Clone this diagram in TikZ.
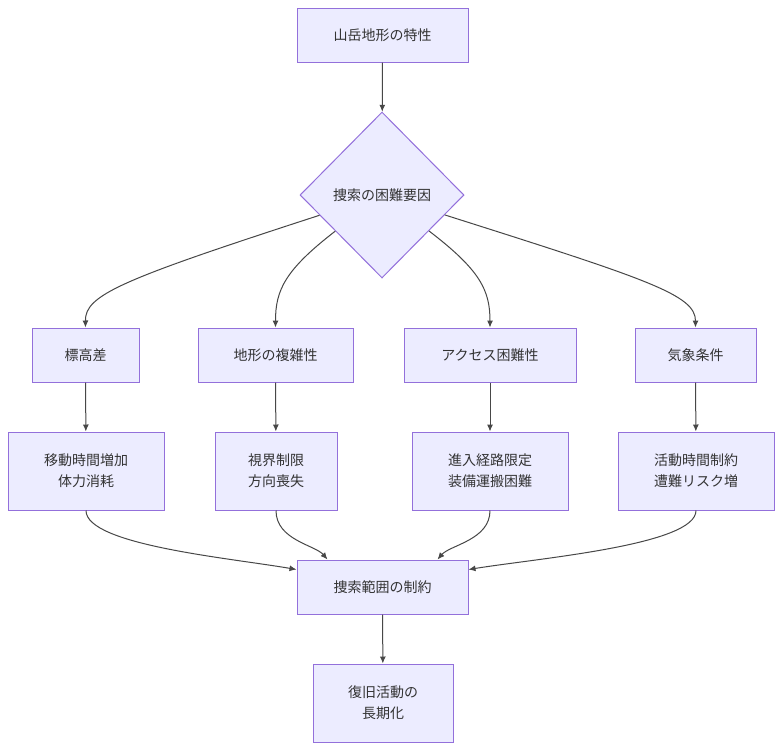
\documentclass[tikz,border=0pt]{standalone}
\usepackage{fontspec}
\newfontfamily\cjk{Noto Sans CJK JP}
\usetikzlibrary{shapes.geometric,calc,arrows.meta}
\definecolor{nfill}{HTML}{ECECFF}
\definecolor{nline}{HTML}{9370DB}
\definecolor{ntext}{HTML}{333333}
\begin{document}
\begin{tikzpicture}[x=1pt,y=-1pt,
  box/.style={draw=nline,fill=nfill,line width=1pt,text=ntext,font=\cjk\fontsize{14}{21}\selectfont,align=center,inner sep=0pt,minimum height=54pt},
  tall/.style={box,minimum height=78pt},
  arr/.style={draw=ntext!90,line width=1pt,-{Latex[length=7pt,width=6pt]}}]
\fill[white] (0,0) rectangle (782,750);
\useasboundingbox (0,0) rectangle (782,750);
\node[box,minimum width=171pt] (t) at (382.5,35) {山岳地形の特性};
\node[box,diamond,minimum width=164pt,minimum height=166pt] (d) at (382,195) {捜索の困難要因};
\node[box,minimum width=107pt] (b1) at (85.5,355) {標高差};
\node[box,minimum width=155pt] (b2) at (275.5,355) {地形の複雑性};
\node[box,minimum width=172pt] (b3) at (490,355) {アクセス困難性};
\node[box,minimum width=121pt] (b4) at (695.5,355) {気象条件};
\node[tall,minimum width=156pt] (c1) at (86,471) {移動時間増加\\体力消耗};
\node[tall,minimum width=122pt] (c2) at (276,471) {視界制限\\方向喪失};
\node[tall,minimum width=156pt] (c3) at (490,471) {進入経路限定\\装備運搬困難};
\node[tall,minimum width=156pt] (c4) at (696,471) {活動時間制約\\遭難リスク増};
\node[box,minimum width=171pt] (r) at (382.5,587) {捜索範囲の制約};
\node[tall,minimum width=140pt] (e) at (383,703) {復旧活動の\\長期化};
\draw[arr] (t) -- (d);
\draw[arr] (d) .. controls (120,280) and (85,295) .. (b1.north);
\draw[arr] (d) .. controls (285,270) and (275.5,290) .. (b2.north);
\draw[arr] (d) .. controls (480,270) and (490,290) .. (b3.north);
\draw[arr] (d) .. controls (650,280) and (695.5,295) .. (b4.north);
\draw[arr] (b1) -- (c1);
\draw[arr] (b2) -- (c2);
\draw[arr] (b3) -- (c3);
\draw[arr] (b4) -- (c4);
\draw[arr] (c1.south) .. controls (86,545) and (230,558) .. ($(r.north west)+(0,10)$);
\draw[arr] (c2.south) .. controls (276,540) and (315,545) .. ($(r.north)+(-55,0)$);
\draw[arr] (c3.south) .. controls (490,540) and (450,545) .. ($(r.north)+(55,0)$);
\draw[arr] (c4.south) .. controls (696,545) and (540,558) .. ($(r.north east)+(0,10)$);
\draw[arr] (r) -- (e);
\end{tikzpicture}
\end{document}
